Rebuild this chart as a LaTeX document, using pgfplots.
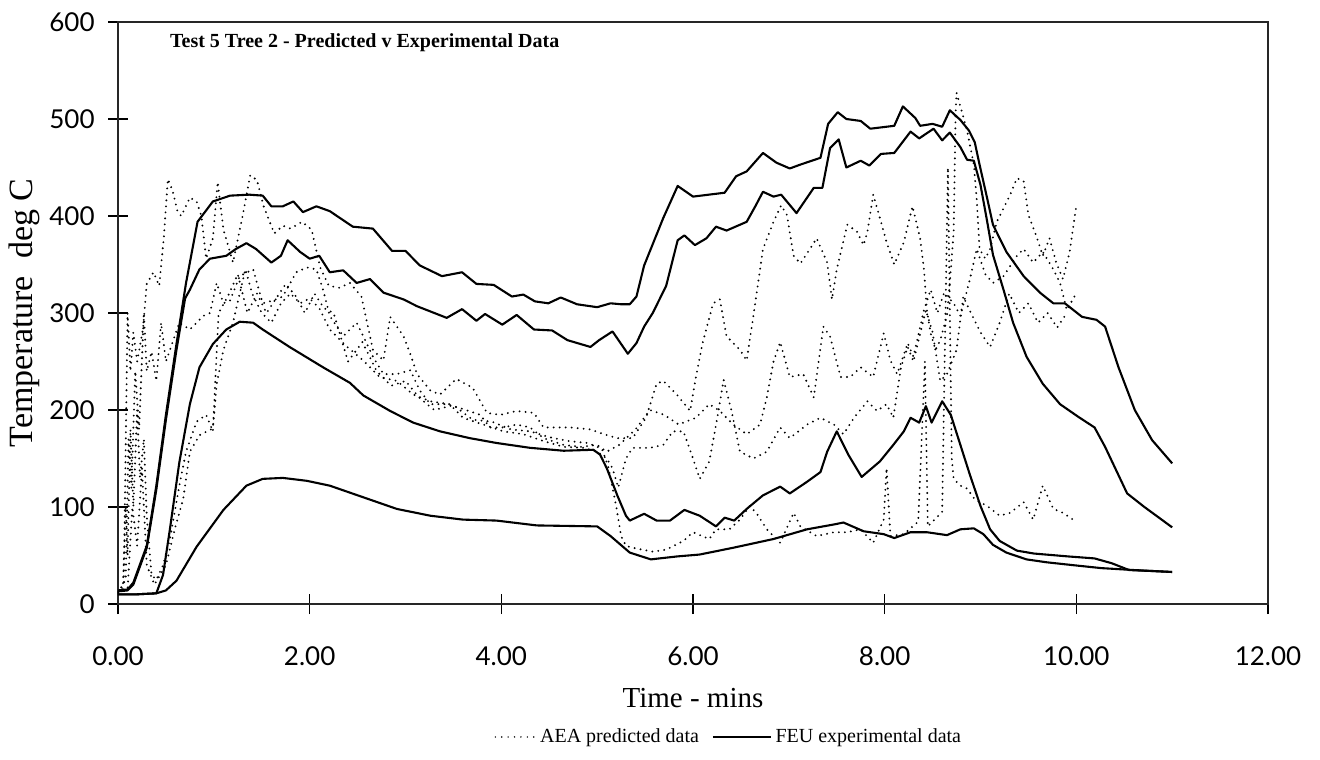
\documentclass[border=0pt]{standalone}
\usepackage{fontspec}
\setmainfont{Liberation Serif}
\newfontfamily\tickfont{Lato}
\usepackage{pgfplots}
\pgfplotsset{compat=1.18}
\tikzset{
  aea/.style={black, line width=1.05pt, line cap=round, dash pattern=on 0pt off 3pt},
  feu/.style={black, line width=1.05pt, line join=round},
}
\begin{document}
\begin{tikzpicture}
\useasboundingbox (-59pt,-77.5pt) rectangle (601pt,302pt);
\begin{axis}[
  at={(0,0)}, anchor=south west,
  scale only axis, width=575pt, height=291pt,
  xmin=0, xmax=12, ymin=0, ymax=600,
  xtick={0,2,...,12}, ytick={0,100,...,600},
  xtick pos=bottom, ytick pos=left,
  tick align=center, major tick length=10pt,
  axis line style={line width=0.75pt, black!85},
  tick style={line width=0.7pt, black},
  /pgf/number format/assume math mode=true,
  xticklabel={\pgfmathprintnumber[fixed,fixed zerofill,precision=2]{\tick}},
  ticklabel style={font=\tickfont\fontsize{13}{13}\selectfont},
  xticklabel style={anchor=center, inner sep=0pt, yshift=-21pt},
  yticklabel style={anchor=east, inner sep=0pt, xshift=-6.5pt},
  xlabel={Time - mins},
  ylabel={Temperature\ \ deg C},
  xlabel style={font=\fontsize{14.5}{14.5}\selectfont, at={(axis description cs:0.5,-0.1615)}, anchor=center},
  ylabel style={font=\fontsize{17}{17}\selectfont, at={(axis description cs:-0.081,0.5)}, anchor=center},
  legend columns=2,
  legend style={draw=none, fill=none, at={(axis description cs:0.532,-0.2285)}, anchor=center,
    font=\fontsize{10}{10}\selectfont, inner sep=0pt,
    /tikz/every even column/.append style={column sep=4.5pt}},
  legend cell align=left,
]
\addlegendimage{legend image code/.code={\draw[aea, line width=0.8pt, dash pattern=on 0pt off 3.2pt] (0pt,0pt) -- (20pt,0pt);}}
\addlegendentry{AEA predicted data}
\addlegendimage{legend image code/.code={\draw[black, line width=0.8pt] (0pt,0pt) -- (29pt,0pt);}}
\addlegendentry{FEU experimental data}

% AEA predicted (dotted)
\addplot[aea, forget plot] coordinates {(0,12) (0.06,20) (0.1,300) (0.13,240) (0.16,280) (0.2,250) (0.26,283) (0.3,330) (0.37,342) (0.43,328) (0.48,380) (0.52,438) (0.57,426) (0.62,405) (0.66,400) (0.75,419) (0.82,415) (0.87,400) (0.92,356) (0.99,377) (1.04,435) (1.1,386) (1.2,352) (1.3,400) (1.38,442) (1.45,437) (1.52,410) (1.63,382) (1.72,390) (1.8,387) (1.92,394) (2.02,386) (2.11,347) (2.2,328) (2.31,326) (2.42,331) (2.54,317) (2.66,262) (2.77,251) (2.84,296) (2.98,276) (3.06,255) (3.12,237) (3.26,220) (3.36,216) (3.53,232) (3.7,223) (3.85,197) (3.99,195) (4.16,199) (4.34,197) (4.44,182) (4.72,182) (4.93,180) (5.07,175) (5.21,171) (5.37,171) (5.51,192) (5.62,227) (5.69,230) (5.83,216) (5.97,199) (6.03,234) (6.1,269) (6.21,310) (6.28,314) (6.35,276) (6.49,262) (6.56,251) (6.63,297) (6.73,366) (6.84,394) (6.92,411) (6.98,401) (7.05,359) (7.12,351) (7.22,366) (7.29,377) (7.4,352) (7.45,314) (7.5,345) (7.61,391) (7.71,384) (7.78,370) (7.82,384) (7.88,422) (7.95,398) (8.02,373) (8.1,350) (8.2,373) (8.29,410) (8.37,377) (8.41,345) (8.44,303) (8.48,279) (8.53,262) (8.58,272) (8.65,297) (8.68,331) (8.72,384) (8.74,506) (8.75,527) (8.79,513) (8.86,488) (8.93,453) (8.96,418) (8.99,366) (9.05,356) (9.1,366) (9.17,394) (9.24,408) (9.31,422) (9.38,439) (9.45,436) (9.5,401) (9.58,380) (9.65,359) (9.72,377) (9.79,352) (9.86,335) (9.93,363) (10.0,411)};
\addplot[aea, forget plot] coordinates {(0,12) (0.08,25) (0.11,170) (0.14,120) (0.18,240) (0.22,180) (0.27,300) (0.3,240) (0.35,260) (0.4,230) (0.45,290) (0.5,250) (0.57,270) (0.64,290) (0.75,283) (0.89,297) (0.96,300) (1.03,331) (1.1,310) (1.17,313) (1.27,338) (1.41,345) (1.51,310) (1.62,313) (1.72,317) (1.86,342) (1.97,347) (2.07,345) (2.14,324) (2.21,297) (2.35,276) (2.49,290) (2.56,276) (2.66,255) (2.77,237) (2.91,237) (3.05,241) (3.15,220) (3.26,206) (3.43,206) (3.6,201) (3.78,195) (3.88,182) (4.02,182) (4.16,185) (4.3,182) (4.44,171) (4.65,164) (4.83,162) (5.0,164) (5.1,157) (5.23,164) (5.4,180) (5.55,200) (5.7,195) (5.85,185) (6.03,192) (6.17,206) (6.28,199) (6.42,185) (6.56,175) (6.7,185) (6.77,213) (6.84,250) (6.91,270) (7.01,234) (7.15,237) (7.26,213) (7.36,286) (7.43,276) (7.54,234) (7.64,234) (7.75,244) (7.88,234) (7.99,279) (8.06,251) (8.13,237) (8.24,269) (8.3,255) (8.41,303) (8.48,324) (8.55,300) (8.62,321) (8.72,310) (8.79,297) (8.89,335) (8.96,366) (9.05,340) (9.13,331) (9.24,338) (9.38,359) (9.45,366) (9.55,352) (9.65,363) (9.76,345) (9.83,331) (9.9,303) (9.98,317)};
\addplot[aea, forget plot] coordinates {(0,12) (0.1,15) (0.15,100) (0.2,60) (0.25,140) (0.3,40) (0.38,20) (0.5,40) (0.6,80) (0.68,108) (0.75,157) (0.85,174) (0.99,181) (1.03,227) (1.1,262) (1.2,290) (1.27,320) (1.33,345) (1.4,320) (1.5,300) (1.6,290) (1.7,310) (1.8,320) (1.9,310) (2.0,315) (2.1,305) (2.21,283) (2.38,266) (2.56,251) (2.73,234) (2.91,230) (3.08,216) (3.26,209) (3.46,206) (3.6,192) (3.81,185) (4.02,178) (4.23,175) (4.44,168) (4.65,162) (4.86,161) (5.0,157) (5.1,150) (5.16,140) (5.22,120) (5.3,150) (5.37,161) (5.55,161) (5.69,164) (5.79,178) (5.9,178) (6.0,150) (6.07,129) (6.17,147) (6.25,190) (6.32,231) (6.4,200) (6.49,157) (6.63,150) (6.77,157) (6.91,182) (7.01,171) (7.19,185) (7.33,192) (7.47,185) (7.57,175) (7.68,192) (7.82,209) (7.92,199) (8.02,206) (8.09,192) (8.17,244) (8.24,265) (8.3,250) (8.43,303) (8.5,280) (8.58,230) (8.65,237) (8.75,262) (8.82,317) (8.9,300) (9.0,280) (9.1,265) (9.2,290) (9.3,320) (9.4,300) (9.5,310) (9.6,290) (9.7,300) (9.8,285) (9.9,300)};
\addplot[aea, forget plot] coordinates {(0,12) (0.05,15) (0.08,100) (0.1,50) (0.13,180) (0.16,100) (0.2,200) (0.23,130) (0.27,170) (0.3,90) (0.35,30) (0.4,25) (0.47,40) (0.54,66) (0.64,122) (0.71,157) (0.82,188) (0.92,195) (0.99,178) (1.02,240) (1.05,300) (1.15,318) (1.25,340) (1.35,300) (1.45,320) (1.55,300) (1.65,315) (1.75,330) (1.85,318) (1.95,300) (2.05,320) (2.15,305) (2.25,300) (2.4,250) (2.55,270) (2.7,240) (2.85,225) (3.0,230) (3.15,212) (3.3,200) (3.5,205) (3.7,190) (3.9,188) (4.1,180) (4.3,178) (4.5,172) (4.7,168) (4.9,166) (5.05,160) (5.12,140) (5.2,100) (5.25,70) (5.3,60) (5.37,58) (5.58,54) (5.72,56) (5.9,65) (6.0,74) (6.17,67) (6.24,77) (6.38,77) (6.49,87) (6.59,101) (6.66,94) (6.77,77) (6.84,70) (6.91,63) (7.05,94) (7.12,80) (7.29,70) (7.47,74) (7.61,74) (7.75,77) (7.88,63) (7.99,87) (8.02,140) (8.06,70) (8.2,72) (8.35,85) (8.42,250) (8.45,80) (8.55,90) (8.6,95) (8.66,450) (8.7,150) (8.72,129) (8.79,122) (8.86,119) (8.94,108) (9.07,101) (9.2,91) (9.31,94) (9.45,105) (9.55,87) (9.65,122) (9.76,98) (9.86,94) (9.98,86)};

% FEU experimental (solid)
\addplot[feu, forget plot] coordinates {(0,14) (0.1,15) (0.16,22) (0.3,60) (0.4,122) (0.5,195) (0.61,268) (0.71,331) (0.83,394) (0.99,415) (1.17,421) (1.37,422) (1.51,421) (1.6,410) (1.72,410) (1.83,415) (1.93,404) (2.07,410) (2.21,405) (2.45,389) (2.66,387) (2.86,364) (3.0,364) (3.15,349) (3.38,338) (3.59,342) (3.74,330) (3.92,329) (4.11,317) (4.23,319) (4.35,312) (4.49,310) (4.62,316) (4.79,309) (5.0,306) (5.14,310) (5.25,309) (5.34,309) (5.41,317) (5.49,349) (5.69,398) (5.84,431) (6.0,420) (6.33,424) (6.45,441) (6.56,446) (6.73,465) (6.87,455) (7.01,449) (7.12,453) (7.33,460) (7.41,495) (7.51,507) (7.6,500) (7.75,498) (7.85,490) (8.1,493) (8.19,513) (8.32,501) (8.37,493) (8.5,495) (8.6,492) (8.68,509) (8.79,499) (8.88,488) (8.94,476) (8.99,453) (9.07,418) (9.13,391) (9.27,363) (9.45,338) (9.62,321) (9.76,310) (9.88,310) (10.06,296) (10.21,293) (10.3,286) (10.44,244) (10.61,200) (10.79,169) (11.0,145)};
\addplot[feu, forget plot] coordinates {(0,13) (0.1,14) (0.16,20) (0.3,58) (0.4,118) (0.5,190) (0.61,262) (0.7,315) (0.75,324) (0.85,345) (0.96,356) (1.13,359) (1.23,366) (1.34,372) (1.44,366) (1.6,352) (1.7,359) (1.77,375) (1.9,363) (2.0,356) (2.1,359) (2.21,342) (2.35,344) (2.49,331) (2.63,335) (2.77,321) (2.98,314) (3.12,307) (3.43,295) (3.59,304) (3.74,292) (3.83,299) (4.01,288) (4.16,298) (4.34,283) (4.53,282) (4.69,272) (4.93,265) (5.02,272) (5.16,281) (5.32,258) (5.41,269) (5.49,286) (5.58,300) (5.72,328) (5.84,375) (5.91,380) (6.02,370) (6.14,377) (6.24,389) (6.35,385) (6.56,394) (6.65,410) (6.73,425) (6.84,420) (6.92,422) (7.08,403) (7.26,429) (7.35,429) (7.43,470) (7.52,479) (7.6,450) (7.75,457) (7.84,452) (7.96,464) (8.1,465) (8.27,487) (8.36,480) (8.51,490) (8.6,478) (8.68,486) (8.79,471) (8.86,458) (8.93,457) (9.0,432) (9.07,394) (9.13,360) (9.24,324) (9.34,290) (9.48,255) (9.65,227) (9.83,206) (10.02,193) (10.19,182) (10.3,162) (10.53,114) (10.71,100) (10.89,87) (11.0,79)};
\addplot[feu, forget plot] coordinates {(0,10) (0.2,10) (0.4,11) (0.47,30) (0.54,76) (0.64,146) (0.75,206) (0.85,244) (0.99,268) (1.13,283) (1.27,291) (1.41,290) (1.51,283) (1.79,265) (2.14,244) (2.42,228) (2.56,215) (2.84,199) (3.08,187) (3.36,178) (3.67,171) (3.95,166) (4.3,161) (4.65,158) (4.96,159) (5.03,154) (5.1,140) (5.21,112) (5.3,91) (5.34,86) (5.49,93) (5.62,86) (5.76,86) (5.91,97) (6.07,91) (6.24,80) (6.33,89) (6.43,86) (6.56,98) (6.73,112) (6.91,121) (7.01,114) (7.19,126) (7.33,136) (7.4,157) (7.5,178) (7.62,154) (7.76,131) (7.95,147) (8.09,164) (8.2,178) (8.27,192) (8.36,187) (8.43,204) (8.49,187) (8.6,209) (8.69,195) (8.79,164) (8.89,133) (9.0,101) (9.1,77) (9.2,65) (9.38,55) (9.56,52) (9.92,49) (10.19,47) (10.37,42) (10.55,35) (10.79,34) (11.0,33)};
\addplot[feu, forget plot] coordinates {(0,10) (0.2,10) (0.4,11) (0.5,14) (0.61,24) (0.82,59) (1.1,97) (1.34,122) (1.51,129) (1.72,130) (1.97,127) (2.21,122) (2.56,110) (2.91,98) (3.26,91) (3.6,87) (3.95,86) (4.37,81) (5.0,80) (5.14,70) (5.34,53) (5.56,46) (5.83,49) (6.07,51) (6.42,58) (6.84,67) (7.19,77) (7.47,82) (7.57,84) (7.78,75) (7.99,72) (8.1,68) (8.27,74) (8.44,74) (8.65,71) (8.79,77) (8.93,78) (9.03,72) (9.13,61) (9.27,53) (9.48,46) (9.69,43) (9.97,40) (10.26,37) (10.6,35) (11.0,33)};

\node[anchor=west, font=\bfseries\fontsize{10}{10}\selectfont, inner sep=0pt] at (axis description cs:0.045,0.964) {Test 5 Tree 2 - Predicted v Experimental Data};
\end{axis}
\end{tikzpicture}
\end{document}
